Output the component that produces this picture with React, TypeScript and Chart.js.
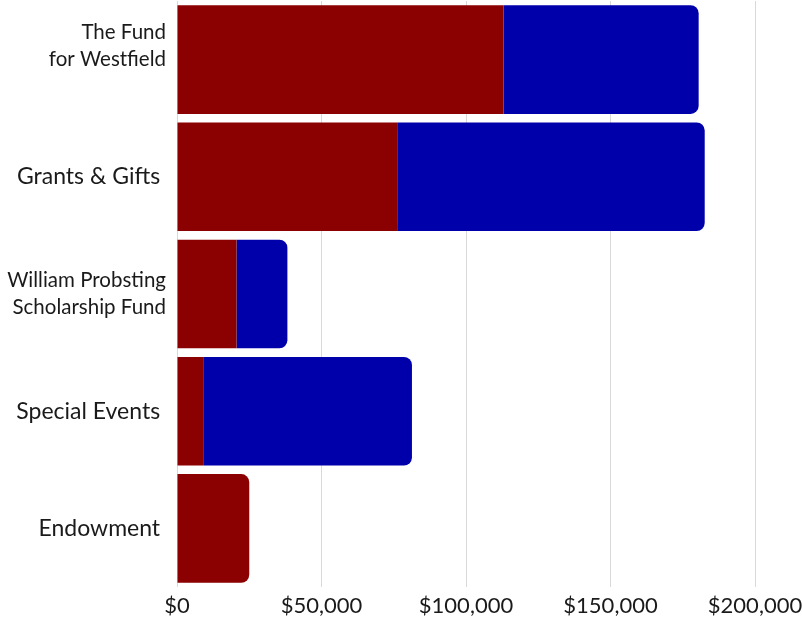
import React, { useEffect, useRef } from "react";
import { Chart, registerables } from "chart.js";

Chart.register(...registerables);

const categories: (string | string[])[] = [
  ["The Fund", "for Westfield", ""],
  "Grants & Gifts ",
  ["William Probsting", "Scholarship Fund"],
  "Special Events ",
  "Endowment ",
];
const redValues = [113000, 76200, 20600, 9300, 25000];
const blueValues = [67500, 106400, 17600, 72000, 0];
const xTickValues = [0, 50000, 100000, 150000, 200000];

const RED = "#8b0000";
const BLUE = "#0000aa";

export default function App() {
  const ref = useRef<HTMLCanvasElement | null>(null);

  useEffect(() => {
    if (!ref.current) return;
    const chart = new Chart(ref.current, {
      type: "bar",
      data: {
        labels: categories,
        datasets: [
          {
            label: "A",
            data: redValues,
            backgroundColor: RED,
            borderRadius: (ctx: any) => (blueValues[ctx.dataIndex] > 0 ? 0 : 8),
            borderSkipped: "start",
          },
          {
            label: "B",
            data: blueValues,
            backgroundColor: BLUE,
            borderRadius: 8,
            borderSkipped: "start",
          },
        ],
      },
      options: {
        indexAxis: "y",
        animation: false,
        responsive: true,
        maintainAspectRatio: false,
        layout: { padding: { top: 1, left: 0, right: 0, bottom: 0 } },
        datasets: { bar: { categoryPercentage: 1, barPercentage: 0.927 } },
        plugins: {
          legend: { display: false },
          tooltip: { enabled: false },
        },
        scales: {
          x: {
            stacked: true,
            min: 0,
            max: 200000,
            afterBuildTicks: (scale: any) => {
              scale.ticks = xTickValues.map((v) => ({ value: v }));
            },
            afterFit: (scale: any) => {
              scale.height = 32;
              scale.paddingRight = 48;
            },
            grid: { color: "#d9d9d9", drawTicks: false },
            border: { display: false },
            ticks: {
              padding: 6,
              color: "#1a1a1a",
              font: { family: "Lato", size: 22, lineHeight: 1.2 },
              callback: (v: any) => "$" + Number(v).toLocaleString("en-US"),
            },
          },
          y: {
            stacked: true,
            grid: { display: false },
            border: { display: false },
            afterFit: (scale: any) => {
              scale.width = 177;
              scale.paddingTop = 0;
              scale.paddingBottom = 0;
            },
            ticks: {
              padding: 3,
              color: "#1a1a1a",
              font: (ctx: any) => {
                const multi = Array.isArray(categories[ctx.index]);
                return multi
                  ? { family: "Lato", size: 20.5, lineHeight: 1.33 }
                  : { family: "Lato", size: 23, lineHeight: 1.2 };
              },
            },
          },
        },
      },
    } as any);
    return () => chart.destroy();
  }, []);

  return (
    <div style={{ position: "absolute", left: 0, top: 0, width: 803, height: 619 }}>
      <canvas ref={ref} />
    </div>
  );
}
